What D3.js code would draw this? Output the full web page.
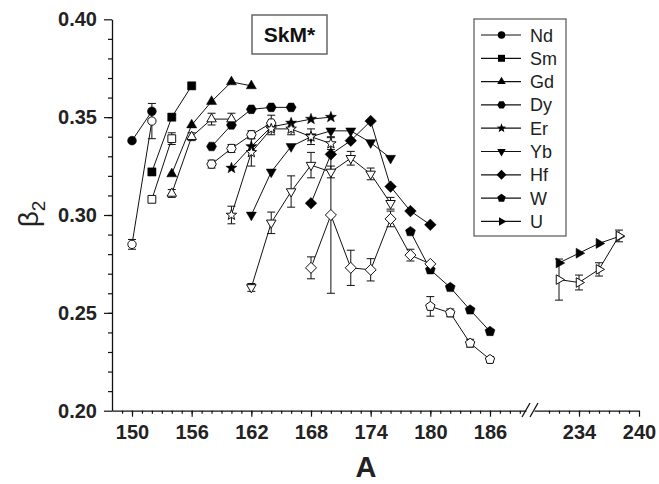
<!DOCTYPE html>
<html>
<head>
<meta charset="utf-8">
<script src="https://cdn.jsdelivr.net/npm/d3@7"></script>
<style>
  html, body { margin: 0; padding: 0; background: #fff; }
  svg { display: block; font-family: "Liberation Sans", Arial, Helvetica, sans-serif; }
</style>
</head>
<body>
<svg id="chart" width="659" height="484"></svg>
<script>
// ---------- data (A, beta2[, error]) ----------
const elements = ["Nd", "Sm", "Gd", "Dy", "Er", "Yb", "Hf", "W", "U"];
const markerTypes = ["circle", "square", "triangle", "hexagon", "star", "triangleDown", "diamond", "pentagon", "triangleRight"];

// filled symbols (SkM* calculation)
const ndCalc = [[150, 0.338], [152, 0.353]];
const smCalc = [[152, 0.322], [154, 0.350], [156, 0.366]];
const gdCalc = [[154, 0.321], [156, 0.346], [158, 0.358], [160, 0.368], [162, 0.366]];
const dyCalc = [[158, 0.335], [160, 0.346], [162, 0.354], [164, 0.355], [166, 0.355]];
const erCalc = [[160, 0.324], [162, 0.335], [164, 0.345], [166, 0.347], [168, 0.349], [170, 0.350]];
const ybCalc = [[162, 0.300], [164, 0.322], [166, 0.335], [168, 0.340], [170, 0.343], [172, 0.343], [174, 0.337], [176, 0.329]];
const hfCalc = [[168, 0.306], [170, 0.331], [172, 0.338], [174, 0.348], [176, 0.3145], [178, 0.302], [180, 0.295]];
const wCalc = [[178, 0.2915], [180, 0.272], [182, 0.263], [184, 0.2515], [186, 0.2405]];
const uCalc = [[232, 0.2755], [234, 0.2805], [236, 0.2855], [238, 0.289]];

// open symbols (experiment, with error bars)
const ndExp = [[150, 0.285, 0.0025], [152, 0.348, 0.009]];
const smExp = [[152, 0.308, 0], [154, 0.339, 0.003]];
const gdExp = [[154, 0.311, 0.002], [156, 0.340, 0.002], [158, 0.349, 0.003], [160, 0.349, 0.003]];
const dyExp = [[158, 0.326, 0.002], [160, 0.334, 0.002], [162, 0.341, 0.002], [164, 0.347, 0.004]];
const erExp = [[160, 0.300, 0.0045], [162, 0.332, 0.007], [164, 0.344, 0.003], [166, 0.344, 0.003], [168, 0.340, 0.004], [170, 0.3365, 0.003]];
const ybExp = [[162, 0.263, 0.002], [164, 0.296, 0.0055], [166, 0.312, 0.008], [168, 0.3255, 0.0065], [170, 0.322, 0.003], [172, 0.329, 0.0035], [174, 0.321, 0.003], [176, 0.306, 0.003]];
const hfExp = [[168, 0.273, 0.0056], [170, 0.300, 0.040], [172, 0.273, 0.009], [174, 0.272, 0.0057], [176, 0.298, 0.004], [178, 0.2795, 0.003], [180, 0.275, 0]];
const wExp = [[180, 0.2533, 0.005], [182, 0.250, 0.002], [184, 0.2345, 0.002], [186, 0.2262, 0.0015]];
const uExp = [[232, 0.267, 0.0105], [234, 0.2655, 0.0038], [236, 0.2722, 0.0034], [238, 0.2893, 0.003]];

const calcSeries = [ndCalc, smCalc, gdCalc, dyCalc, erCalc, ybCalc, hfCalc, wCalc, uCalc];
const expSeries = [ndExp, smExp, gdExp, dyExp, erExp, ybExp, hfExp, wExp, uExp];

const yTicksMajor = [0.20, 0.25, 0.30, 0.35, 0.40];
const xTicksMajor1 = [150, 156, 162, 168, 174, 180, 186];
const xTicksMajor2 = [234, 240];

// ---------- scales ----------
const svg = d3.select("#chart");
const y = d3.scaleLinear().domain([0.20, 0.40]).range([410.7, 19.3]);
const x1 = d3.scaleLinear().domain([150, 186]).range([132, 490]);
const x2 = d3.scaleLinear().domain([234, 240]).range([579, 639]);
const X = a => (a < 200 ? x1(a) : x2(a));

// ---------- markers ----------
function polygon(n, r, rot) {
  const pts = [];
  for (let i = 0; i < n; i++) {
    const a = rot + i * 2 * Math.PI / n;
    pts.push([r * Math.cos(a), r * Math.sin(a)]);
  }
  return "M" + pts.map(p => p[0].toFixed(2) + "," + p[1].toFixed(2)).join("L") + "Z";
}
function markerPath(type, k) {
  switch (type) {
    case "circle": { const r = 4.4 * k; return `M${r},0A${r},${r} 0 1,1 ${-r},0A${r},${r} 0 1,1 ${r},0Z`; }
    case "square": { const h = 4.1 * k; return `M${-h},${-h}H${h}V${h}H${-h}Z`; }
    case "triangle": return polygon(3, 5.8 * k, -Math.PI / 2);
    case "triangleDown": return polygon(3, 5.8 * k, Math.PI / 2);
    case "triangleRight": return polygon(3, 5.8 * k, 0);
    case "hexagon": return polygon(6, 5.0 * k, 0);
    case "pentagon": return polygon(5, 5.2 * k, -Math.PI / 2);
    case "diamond": return polygon(4, 5.8 * k, 0);
    case "star": {
      const pts = [];
      for (let i = 0; i < 10; i++) {
        const r = (i % 2 === 0 ? 5.8 : 2.4) * k;
        const a = -Math.PI / 2 + i * Math.PI / 5;
        pts.push([r * Math.cos(a), r * Math.sin(a)]);
      }
      return "M" + pts.map(p => p[0].toFixed(2) + "," + p[1].toFixed(2)).join("L") + "Z";
    }
  }
}

// ---------- axes ----------
const axisColor = "#111";
function styleAxis(g) {
  g.selectAll("path.domain").attr("stroke", axisColor).attr("stroke-width", 1.3);
  g.selectAll(".tick line").attr("stroke", axisColor).attr("stroke-width", 1.2);
  g.selectAll(".tick text").attr("fill", "#222").attr("font-size", 20).attr("font-weight", "bold")
    .attr("font-family", "'Liberation Sans', Arial, sans-serif");
}

// Y axis
const gy = svg.append("g").attr("transform", "translate(112,0)")
  .call(d3.axisLeft(y).tickValues(yTicksMajor).tickSize(8).tickSizeOuter(0).tickPadding(7).tickFormat(d3.format(".2f")));
styleAxis(gy);
const gyMinor = svg.append("g").attr("transform", "translate(112,0)")
  .call(d3.axisLeft(y).tickValues(d3.range(21, 40).map(v => v / 100)).tickSize(4).tickFormat(""));
gyMinor.select("path.domain").remove();
styleAxis(gyMinor);

// X axis, first segment
const x1ax = x1.copy().domain([x1.invert(112), x1.invert(526)]).range([112, 526]);
const gx1 = svg.append("g").attr("transform", "translate(0,410.7)")
  .call(d3.axisBottom(x1ax).tickValues(xTicksMajor1).tickSize(6).tickSizeOuter(0).tickPadding(8).tickFormat(d3.format("d")));
styleAxis(gx1);
const gx1m = svg.append("g").attr("transform", "translate(0,410.7)")
  .call(d3.axisBottom(x1ax).tickValues(d3.range(149, 190)).tickSize(3).tickFormat(""));
gx1m.select("path.domain").remove();
styleAxis(gx1m);

// X axis, second segment
const x2ax = x2.copy().domain([x2.invert(534), 240]).range([534, 639]);
const gx2 = svg.append("g").attr("transform", "translate(0,410.7)")
  .call(d3.axisBottom(x2ax).tickValues(xTicksMajor2).tickSize(6).tickSizeOuter(0).tickPadding(8).tickFormat(d3.format("d")));
styleAxis(gx2);
const gx2m = svg.append("g").attr("transform", "translate(0,410.7)")
  .call(d3.axisBottom(x2ax).tickValues(d3.range(231, 240)).tickSize(3).tickFormat(""));
gx2m.select("path.domain").remove();
styleAxis(gx2m);

// axis break marks
[[522, 530], [530, 538]].forEach(([a, b]) => {
  svg.append("line").attr("x1", a).attr("y1", 417).attr("x2", b).attr("y2", 403)
    .attr("stroke", axisColor).attr("stroke-width", 1.3);
});

// axis titles
const yt = svg.append("text").attr("transform", "translate(38,214) rotate(-90)")
  .attr("text-anchor", "middle").attr("font-size", 28).attr("fill", "#222");
yt.append("tspan").text("β");
yt.append("tspan").attr("font-size", 19).attr("dy", 7).text("2");

svg.append("text").attr("x", 366).attr("y", 477).attr("text-anchor", "middle")
  .attr("font-size", 29).attr("font-weight", "bold").attr("fill", "#222").text("A");

// ---------- data layers ----------
const line = d3.line().x(d => X(d[0])).y(d => y(d[1]));
const plot = svg.append("g");

// lines
calcSeries.concat(expSeries).forEach(s => {
  plot.append("path").attr("d", line(s)).attr("fill", "none")
    .attr("stroke", "#111").attr("stroke-width", 1);
});

// error bars
expSeries.forEach(s => {
  s.filter(d => d[2] > 0).forEach(d => {
    const cx = X(d[0]), y0 = y(d[1] - d[2]), y1 = y(d[1] + d[2]);
    plot.append("path")
      .attr("d", `M${cx},${y0}V${y1}M${cx - 4},${y0}H${cx + 4}M${cx - 4},${y1}H${cx + 4}`)
      .attr("stroke", "#111").attr("stroke-width", 1).attr("fill", "none");
  });
});

// filled markers
calcSeries.forEach((s, i) => {
  plot.selectAll(null).data(s).enter().append("path")
    .attr("d", markerPath(markerTypes[i], 1))
    .attr("transform", d => `translate(${X(d[0])},${y(d[1])})`)
    .attr("fill", "#000").attr("stroke", "#000").attr("stroke-width", 0.5);
});
// open markers
expSeries.forEach((s, i) => {
  plot.selectAll(null).data(s).enter().append("path")
    .attr("d", markerPath(markerTypes[i], 0.95))
    .attr("transform", d => `translate(${X(d[0])},${y(d[1])})`)
    .attr("fill", "#fff").attr("stroke", "#111").attr("stroke-width", 1);
});

// ---------- legend ----------
const lg = svg.append("g");
lg.append("rect").attr("x", 474).attr("y", 19).attr("width", 92).attr("height", 217)
  .attr("fill", "#fff").attr("stroke", "#555").attr("stroke-width", 1.2);
elements.forEach((name, i) => {
  const ly = 35 + i * 23.3;
  lg.append("line").attr("x1", 481).attr("x2", 521).attr("y1", ly).attr("y2", ly)
    .attr("stroke", "#111").attr("stroke-width", 1.2);
  lg.append("path").attr("d", markerPath(markerTypes[i], 0.85))
    .attr("transform", `translate(501.5,${ly})`).attr("fill", "#000");
  lg.append("text").attr("x", 530).attr("y", ly + 6.5).attr("font-size", 18)
    .attr("fill", "#222").text(name);
});

// ---------- SkM* label ----------
svg.append("rect").attr("x", 252).attr("y", 15).attr("width", 75).attr("height", 39)
  .attr("fill", "#fff").attr("stroke", "#666").attr("stroke-width", 1.5);
svg.append("text").attr("x", 289.5).attr("y", 42).attr("text-anchor", "middle")
  .attr("font-size", 21).attr("font-weight", "bold").attr("fill", "#111").text("SkM*");
</script>
</body>
</html>
